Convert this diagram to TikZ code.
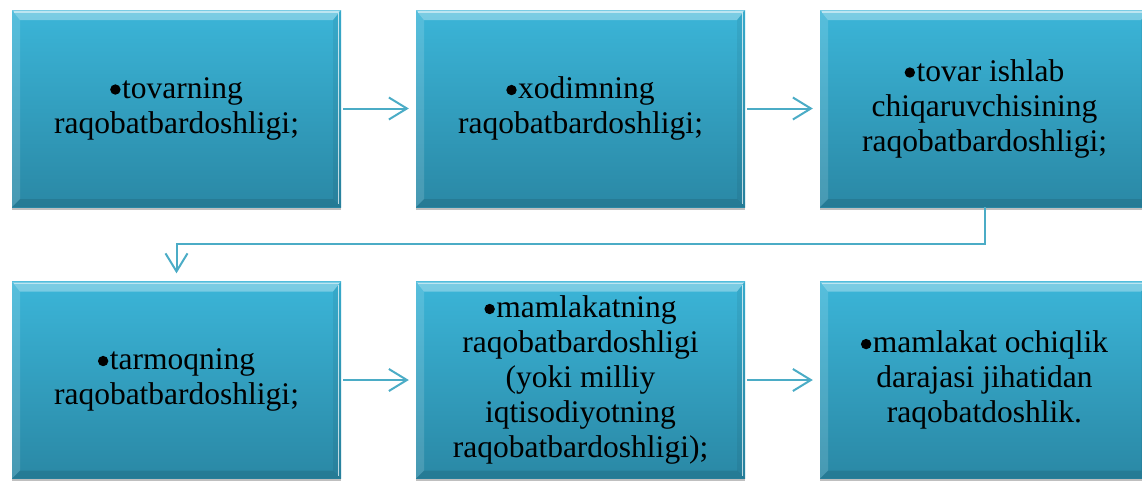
\documentclass[tikz,border=0pt]{standalone}
\usepackage{fontspec}
\setmainfont{Liberation Serif}
\usetikzlibrary{arrows.meta,shadows}
\definecolor{boxtop}{HTML}{3BB5D8}
\definecolor{boxbot}{HTML}{2A88A5}
\definecolor{linec}{HTML}{4BACC6}
\newcommand\bulletmark{\raisebox{3.3pt}{\tikz\fill[black] (0,0) circle (5.2pt);}\hspace{1.5pt}}
\tikzset{
  stagebox/.style={rectangle, minimum width=329pt, minimum height=197pt, inner sep=0pt,
    top color=boxtop, bottom color=boxbot, align=center,
    font=\fontsize{31.5}{35}\selectfont,
    drop shadow={shadow xshift=0pt, shadow yshift=-3pt, opacity=.25, fill=black},
    path picture={
      \coordinate (nw) at (path picture bounding box.north west);
      \coordinate (ne) at (path picture bounding box.north east);
      \coordinate (sw) at (path picture bounding box.south west);
      \coordinate (se) at (path picture bounding box.south east);
      \fill[white, opacity=.32] (nw) -- (ne) -- ([shift={(-8pt,-10pt)}]ne) -- ([shift={(8pt,-10pt)}]nw) -- cycle;
      \fill[white, opacity=.14] (nw) -- ([shift={(8pt,-10pt)}]nw) -- ([shift={(8pt,8pt)}]sw) -- (sw) -- cycle;
      \fill[black, opacity=.06] (ne) -- ([shift={(-8pt,-10pt)}]ne) -- ([shift={(-8pt,8pt)}]se) -- (se) -- cycle;
      \fill[black, opacity=.10] (sw) -- (se) -- ([shift={(-8pt,8pt)}]se) -- ([shift={(8pt,8pt)}]sw) -- cycle;
      \draw[white, opacity=.7, line width=1.2pt] ([shift={(-2.5pt,-3pt)}]ne) -- ([shift={(-2.5pt,3pt)}]se);
      \draw[white, opacity=.5, line width=1.2pt] ([shift={(2pt,-2pt)}]nw) -- ([shift={(-2pt,-2pt)}]ne);
    }},
  link/.style={draw=linec, line width=2pt, -{Straight Barb[length=18pt, width=22pt, line width=2pt]}}
}
\begin{document}
\begin{tikzpicture}[x=1pt, y=-1pt]
\useasboundingbox (0,0) rectangle (1142,480);
\clip (0,0) rectangle (1142,480);
\node[stagebox] (b1) at (176.5,108.5) {\bulletmark tovarning\\raqobatbardoshligi;};
\node[stagebox] (b2) at (580.5,108.5) {\bulletmark xodimning\\raqobatbardoshligi;};
\node[stagebox] (b3) at (984.5,108.5) {\bulletmark tovar ishlab\\chiqaruvchisining\\raqobatbardoshligi;};
\node[stagebox] (b4) at (176.5,380) {\bulletmark tarmoqning\\raqobatbardoshligi;};
\node[stagebox] (b5) at (580.5,380) {\bulletmark mamlakatning\\raqobatbardoshligi\\(yoki milliy\\iqtisodiyotning\\raqobatbardoshligi);};
\node[stagebox] (b6) at (984.5,380) {\bulletmark mamlakat ochiqlik\\darajasi jihatidan\\raqobatdoshlik.};
\coordinate (turn) at (984.5,244);
\draw[link, shorten <=2pt, shorten >=7pt] (b1.east) -- (b2.west);
\draw[link, shorten <=2pt, shorten >=7pt] (b2.east) -- (b3.west);
\draw[link, shorten >=8pt] (b3.south) -- (turn) -| (b4.north);
\draw[link, shorten <=2pt, shorten >=7pt] (b4.east) -- (b5.west);
\draw[link, shorten <=2pt, shorten >=7pt] (b5.east) -- (b6.west);
\end{tikzpicture}
\end{document}
